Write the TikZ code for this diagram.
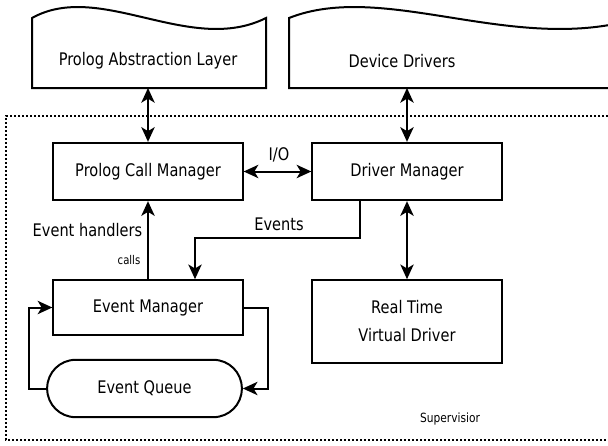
\documentclass[tikz,border=0pt]{standalone}
\usepackage{fontspec}
\setmainfont{DejaVu Sans}[FakeStretch=0.84]
\usepackage{tikz}
\usetikzlibrary{arrows.meta, positioning, calc}
\tikzset{
  box/.style={draw, line width=1.5pt, minimum width=142pt, minimum height=43pt,
              inner sep=0pt, font=\fontsize{13}{15}\selectfont},
  txt/.style={inner sep=0pt, font=\fontsize{13}{15}\selectfont},
  link/.style={line width=1.5pt, -{Stealth[length=11pt,width=10pt,inset=3pt]}},
  both/.style={line width=1.5pt, {Stealth[length=11pt,width=10pt,inset=3pt]}-{Stealth[length=11pt,width=10pt,inset=3pt]}},
  frame/.style={line width=1.5pt, dash pattern=on 1.5pt off 1.5pt}
}

\begin{document}
\begin{tikzpicture}[x=0.75pt, y=-0.75pt]
      \useasboundingbox (0,0) rectangle (608,446);
      \clip (0,0) rectangle (608,446);
      \draw[line width=1.5pt] (32,88) -- (32,18) .. controls (100,-20) and (190,56) .. (266,18) -- (266,88) -- cycle;
      \draw[line width=1.5pt] (289,88) -- (289,18) .. controls (385,-20) and (515,56) .. (639,18) -- (639,88) -- cycle;
      \node[txt] (pal) at (148,61) {Prolog Abstraction Layer};
      \node[txt] (dd) at (402,61) {Device Drivers};
      \coordinate (palb) at (148,88);
      \coordinate (ddb) at (407,88);
      \draw[frame] (620,116) -- (6,116) -- (6,440) -- (620,440);

      \node[box] (pcm) at (148,171.5) {Prolog Call Manager};
      \node[box] (dm) at (407,171.5) {Driver Manager};
      \node[box, minimum height=41pt] (em) at (148,307.5) {Event Manager};
      \node[box, minimum height=62pt, align=center, font=\fontsize{13}{21}\selectfont] (rt) at (407,321.5) {Real Time\\Virtual Driver};
      \node[box, minimum width=146pt, rounded corners=21.3pt] (eq) at (144.5,388.5) {Event Queue};

      \draw[both] (palb) -- (palb |- pcm.north);
      \draw[both] (ddb) -- (ddb |- dm.north);
      \draw[both] (pcm.east) -- (dm.west);
      \node[txt] (io) at (279,155) {I/O};
      \coordinate (evsrc) at (360,200);
      \coordinate (evturn) at (195,238);
      \draw[link] (evsrc) |- (evturn) -- (evturn |- em.north);
      \node[txt] (events) at (279,224.5) {Events};
      \draw[link] (pcm.south |- em.north) -- (pcm.south);
      \node[txt] (handlers) at (87.5,230) {Event handlers};
      \node[txt, font=\fontsize{9}{11}\selectfont] (calls) at (129,260) {calls};
      \draw[both] (dm.south) -- (rt.north);
      \draw[link] (eq.west) -- ++(-17,0) |- (em.west);
      \draw[link] (em.east) -- ++(24,0) |- (eq.east);
      \node[txt, font=\fontsize{9.5}{11}\selectfont] (sup) at (450,419) {Supervisior};
    \end{tikzpicture}
\end{document}
